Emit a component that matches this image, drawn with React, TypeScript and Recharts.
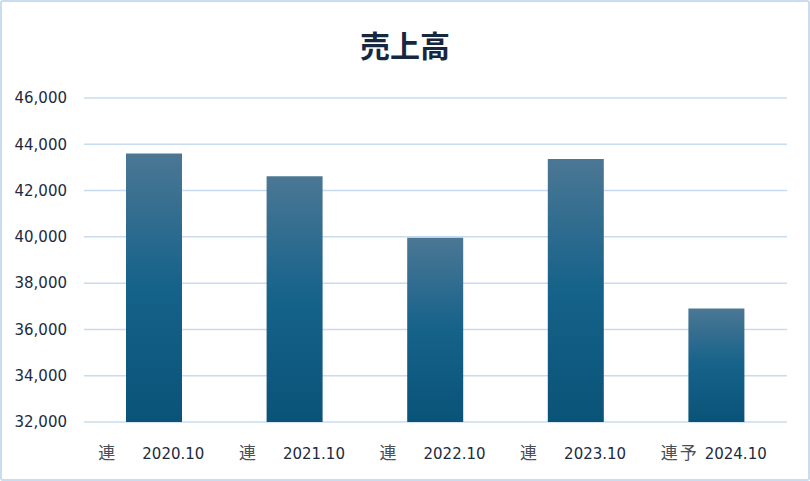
import React from 'react';
import { BarChart, Bar, XAxis, YAxis, CartesianGrid } from 'recharts';

const prefixes = ['連', '連', '連', '連', '連予'];
const periods = ['2020.10', '2021.10', '2022.10', '2023.10', '2024.10'];
const sales = [43600, 42620, 39960, 43360, 36900];
const yTicks = [32000, 34000, 36000, 38000, 40000, 42000, 44000, 46000];

const data = periods.map((p, i) => ({ period: p, prefix: prefixes[i], sales: sales[i] }));

const textColor = '#1c2b3f';
const gridColor = '#c9dcef';
const numFont = "'DejaVu Sans', sans-serif";

const PeriodTick = (props: any) => {
  const { x, y, payload, index } = props;
  return (
    <g>
      <text x={x - 56} y={y + 29} fill="#4a4f57" fontSize={17} letterSpacing={2} fontFamily="'Noto Sans CJK JP', sans-serif" textAnchor="start">
        {prefixes[index]}
      </text>
      <text x={x - 12} y={y + 29} fill={textColor} fontSize={15} fontFamily={numFont} textAnchor="start">
        {payload.value}
      </text>
    </g>
  );
};

export default function App() {
  return (
    <div style={{ position: 'absolute', left: 0, top: 0, width: 810, height: 481, background: '#fff' }}>
      <div
        style={{
          position: 'absolute', left: 0, top: 0, width: 810, height: 481, boxSizing: 'border-box',
          border: '2px solid #cadcf0', borderRadius: 3, pointerEvents: 'none', zIndex: 2,
        }}
      />
      <div
        style={{
          position: 'absolute', left: 0, top: 24, width: 810, textAlign: 'center',
          fontFamily: "'Noto Sans CJK JP', sans-serif", fontWeight: 700, fontSize: 30, color: '#16283f', lineHeight: '40px',
        }}
      >
        売上高
      </div>
      <BarChart width={810} height={481} data={data} margin={{ top: 98, right: 23, bottom: 0, left: 0 }}>
        <defs>
          <linearGradient id="barFill" x1="0" y1="0" x2="0" y2="1">
            <stop offset="0%" stopColor="#4b7794" />
            <stop offset="50%" stopColor="#15628a" />
            <stop offset="100%" stopColor="#0a5378" />
          </linearGradient>
        </defs>
        <CartesianGrid vertical={false} stroke={gridColor} strokeWidth={1.5} />
        <XAxis dataKey="period" axisLine={false} tickLine={false} height={59} interval={0} tick={<PeriodTick />} />
        <YAxis
          width={84}
          domain={[32000, 46000]}
          ticks={yTicks}
          axisLine={false}
          tickLine={false}
          tickMargin={11}
          tick={{ fill: textColor, fontSize: 15, fontFamily: numFont }}
          tickFormatter={(v: number) => v.toLocaleString('en-US')}
        />
        <Bar dataKey="sales" fill="url(#barFill)" barSize={56} isAnimationActive={false} />
      </BarChart>
    </div>
  );
}
